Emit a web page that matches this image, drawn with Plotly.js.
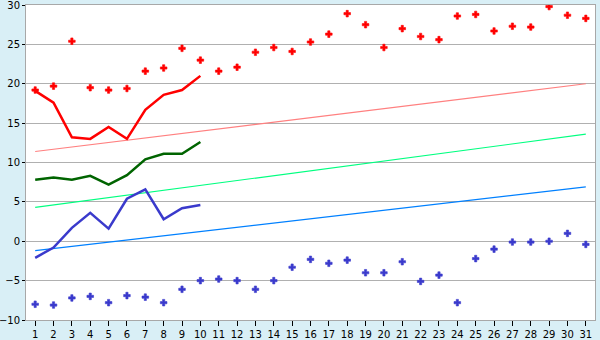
<!DOCTYPE html>
<html>
<head>
<meta charset="utf-8">
<script src="https://cdn.plot.ly/plotly-3.0.1.min.js"></script>
<style>
html,body{margin:0;padding:0;background:#d9eff6;}
#chart{width:600px;height:340px;}
</style>
</head>
<body>
<div id="chart"></div>
<script>
var days = [1,2,3,4,5,6,7,8,9,10,11,12,13,14,15,16,17,18,19,20,21,22,23,24,25,26,27,28,29,30,31];
var maxRecord = [19.2,19.7,25.4,19.5,19.2,19.4,21.6,22.0,24.5,23.0,21.6,22.1,24.0,24.6,24.1,25.3,26.3,28.9,27.5,24.6,27.0,26.0,25.6,28.6,28.8,26.7,27.3,27.2,29.8,28.7,28.3];
var minRecord = [-8.0,-8.1,-7.2,-7.0,-7.8,-6.9,-7.1,-7.8,-6.1,-5.0,-4.8,-5.0,-6.1,-5.0,-3.3,-2.3,-2.8,-2.4,-4.0,-4.0,-2.6,-5.1,-4.3,-7.8,-2.2,-1.0,-0.1,-0.1,0.0,1.0,-0.4];
var curDays = [1,2,3,4,5,6,7,8,9,10];
var curMax = [19.1,17.6,13.2,13.0,14.5,13.0,16.7,18.6,19.2,21.0];
var curAvg = [7.8,8.1,7.8,8.3,7.2,8.4,10.4,11.1,11.1,12.6];
var curMin = [-2.1,-0.8,1.7,3.6,1.6,5.4,6.6,2.8,4.2,4.6];
var trendDays = [1,31];
var trendMax = [11.4,20.0];
var trendAvg = [4.3,13.6];
var trendMin = [-1.2,6.9];

var traces = [
  {x:trendDays,y:trendMax,mode:'lines',line:{color:'#ff8080',width:1.2}},
  {x:trendDays,y:trendAvg,mode:'lines',line:{color:'#00ff80',width:1.2}},
  {x:trendDays,y:trendMin,mode:'lines',line:{color:'#0080ff',width:1.2}},
  {x:days,y:maxRecord,mode:'markers',marker:{symbol:'cross',size:5.5,color:'#ff0000',line:{width:0.6,color:'#ff0000'}}},
  {x:days,y:minRecord,mode:'markers',marker:{symbol:'cross',size:5.5,color:'#3a3acc',line:{width:0.6,color:'#3a3acc'}}},
  {x:curDays,y:curMax,mode:'lines',line:{color:'#ff0000',width:2.5}},
  {x:curDays,y:curAvg,mode:'lines',line:{color:'#006400',width:2.5}},
  {x:curDays,y:curMin,mode:'lines',line:{color:'#3a3acc',width:2.5}}
];

var layout = {
  width:600,height:340,
  margin:{l:26,r:5,t:5,b:20,pad:0},
  paper_bgcolor:'#d9eff6',
  plot_bgcolor:'#ffffff',
  showlegend:false,
  font:{family:'DejaVu Sans, Verdana, sans-serif',size:10,color:'#000'},
  xaxis:{range:[0.5,31.5],tickmode:'array',tickvals:days,ticktext:days.map(String),
    showgrid:false,zeroline:false,showline:true,linecolor:'#a8a8a8',linewidth:1,mirror:true,
    ticks:'outside',ticklen:5,tickcolor:'#000',tickwidth:1,tickfont:{size:10},ticklabelstandoff:0,
    ticklabeloverflow:'allow'},
  yaxis:{range:[-10,30],dtick:5,tick0:0,showgrid:true,gridcolor:'#b0b0b0',gridwidth:1,
    zeroline:false,showline:true,linecolor:'#a8a8a8',linewidth:1,mirror:true,
    ticks:'outside',ticklen:3,tickcolor:'#000',tickwidth:1,tickfont:{size:10},ticklabelstandoff:0,
    ticklabeloverflow:'allow'}
};

Plotly.newPlot('chart',traces,layout,{staticPlot:true,displayModeBar:false});
</script>
</body>
</html>
